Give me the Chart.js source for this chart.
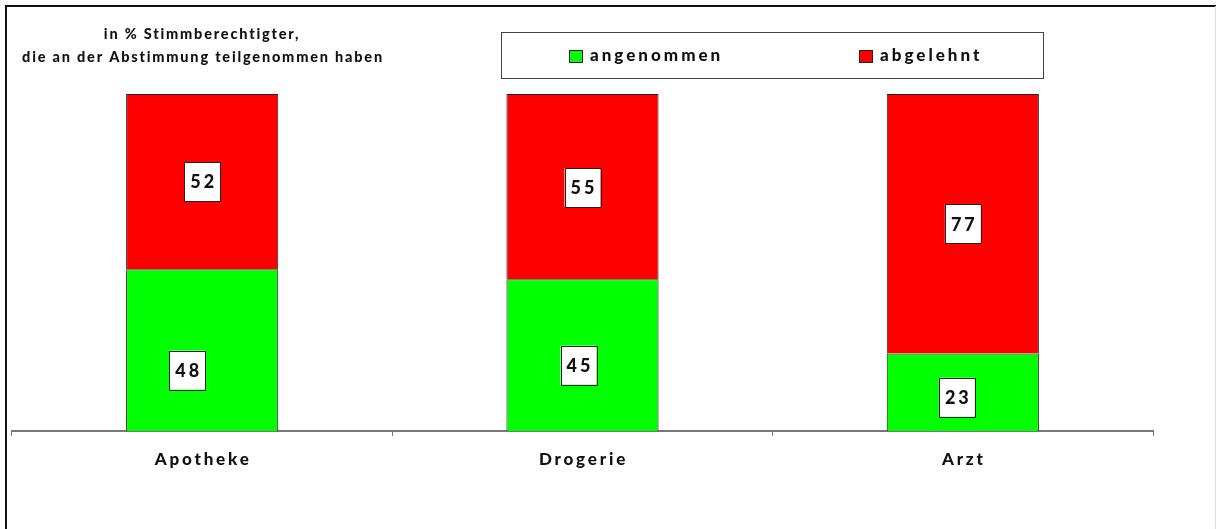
<!DOCTYPE html>
<html>
<head>
<meta charset="utf-8">
<script src="https://cdn.jsdelivr.net/npm/chart.js@4"></script>
<style>
  html, body { margin: 0; padding: 0; background: #fff; }
  #wrap { width: 1216px; height: 529px; }
</style>
</head>
<body>
<div id="wrap"><canvas id="chart"></canvas></div>
<script>
const categories = ['Apotheke', 'Drogerie', 'Arzt'];
const angenommen = [48, 45, 23];
const abgelehnt = [52, 55, 77];
const titleLines = ['in % Stimmberechtigter,', 'die an der Abstimmung teilgenommen haben'];

const FONT = 'Lato, "DejaVu Sans", sans-serif';
const WEIGHT = '900';

// label boxes were moved a bit by hand in the original, per dataset / bar
const labelNudge = [
    [[-15, 20], [-4, 10], [-6, 5]],
    [[0, 0], [0, 1], [0, 0]]
];

// frame, title and legend box
const decorPlugin = {
    id: 'decor',
    beforeDraw(chart) {
        const ctx = chart.ctx;
        ctx.save();
        ctx.fillStyle = '#fff';
        ctx.fillRect(0, 0, chart.width, chart.height);
        ctx.strokeStyle = '#111';
        ctx.lineWidth = 2;
        ctx.beginPath();
        ctx.moveTo(6, chart.height);
        ctx.lineTo(6, 6);
        ctx.lineTo(chart.width, 6);
        ctx.stroke();
        ctx.strokeStyle = '#ddd';
        ctx.lineWidth = 1;
        ctx.beginPath();
        ctx.moveTo(1215.5, 6);
        ctx.lineTo(1215.5, chart.height);
        ctx.stroke();
        ctx.restore();
    },
    afterDraw(chart) {
        const ctx = chart.ctx;
        ctx.save();
        ctx.fillStyle = '#111';
        ctx.textAlign = 'center';
        ctx.textBaseline = 'middle';
        ctx.font = WEIGHT + ' 14.5px ' + FONT;
        ctx.letterSpacing = '1.8px';
        ctx.fillText(titleLines[0], 202, 34);
        ctx.fillText(titleLines[1], 203, 57);

        // legend
        ctx.strokeStyle = '#444';
        ctx.lineWidth = 1;
        ctx.strokeRect(501.5, 32.5, 542, 46);
        ctx.font = WEIGHT + ' 17px ' + FONT;
        ctx.letterSpacing = '3px';
        ctx.textAlign = 'left';
        const items = [
            { x: 569, ds: chart.data.datasets[0] },
            { x: 859, ds: chart.data.datasets[1] }
        ];
        items.forEach(it => {
            ctx.fillStyle = it.ds.backgroundColor;
            ctx.fillRect(it.x, 50, 13, 12);
            ctx.strokeStyle = '#222';
            ctx.strokeRect(it.x + 0.5, 50.5, 13, 12);
            ctx.fillStyle = '#111';
            ctx.fillText(it.ds.label, it.x + 21, 56);
        });

        // category labels under the axis
        const xs = chart.scales.x;
        ctx.textAlign = 'center';
        ctx.font = WEIGHT + ' 17px ' + FONT;
        ctx.letterSpacing = '2.8px';
        chart.data.labels.forEach((lab, i) => {
            ctx.fillText(lab, xs.getPixelForValue(i) + 1, 460);
        });
        ctx.restore();
    }
};

// white boxed values in the middle of every segment
const boxLabelPlugin = {
    id: 'boxLabels',
    afterDatasetsDraw(chart) {
        const ctx = chart.ctx;
        ctx.save();
        chart.data.datasets.forEach((ds, di) => {
            const meta = chart.getDatasetMeta(di);
            meta.data.forEach((bar, i) => {
                const nudge = labelNudge[di][i];
                const cx = bar.x + nudge[0];
                const cy = (bar.y + bar.base) / 2 + nudge[1];
                const w = 36, h = 39;
                ctx.fillStyle = '#fff';
                ctx.fillRect(cx - w / 2, cy - h / 2, w, h);
                ctx.strokeStyle = '#222';
                ctx.lineWidth = 1;
                ctx.strokeRect(Math.round(cx - w / 2) + 0.5, Math.round(cy - h / 2) + 0.5, w, h);
                ctx.fillStyle = '#111';
                ctx.font = WEIGHT + ' 18px ' + FONT;
                ctx.letterSpacing = '3px';
                ctx.textAlign = 'center';
                ctx.textBaseline = 'middle';
                ctx.fillText(String(ds.data[i]), cx + 1.5, cy + 1);
            });
        });
        ctx.restore();
    }
};

new Chart(document.getElementById('chart'), {
    type: 'bar',
    data: {
        labels: categories,
        datasets: [
            {
                label: 'angenommen',
                data: angenommen,
                backgroundColor: '#00ff00',
                borderColor: '#222',
                borderWidth: 1,
                barPercentage: 0.4,
                categoryPercentage: 1
            },
            {
                label: 'abgelehnt',
                data: abgelehnt,
                backgroundColor: '#ff0000',
                borderColor: '#222',
                borderWidth: 1,
                barPercentage: 0.4,
                categoryPercentage: 1
            }
        ]
    },
    options: {
        responsive: true,
        maintainAspectRatio: false,
        animation: false,
        layout: { padding: { left: 12, right: 63, top: 94, bottom: 0 } },
        plugins: {
            legend: { display: false },
            title: { display: false },
            tooltip: { enabled: false }
        },
        scales: {
            x: {
                stacked: true,
                offset: true,
                afterFit(scale) { scale.height = 98; },
                ticks: { display: false },
                grid: {
                    display: true,
                    offset: true,
                    drawOnChartArea: false,
                    drawTicks: true,
                    tickLength: 5,
                    color: '#777'
                },
                border: { display: true, color: '#777', width: 2 }
            },
            y: {
                stacked: true,
                display: false,
                min: 0,
                max: 100
            }
        }
    },
    plugins: [decorPlugin, boxLabelPlugin]
});
</script>
</body>
</html>
